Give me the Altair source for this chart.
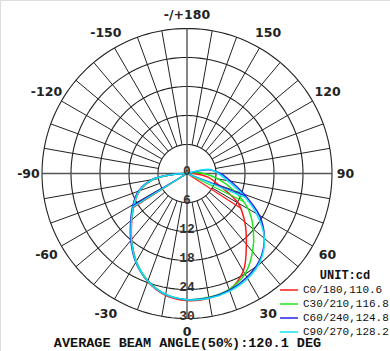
import altair as alt
import numpy as np
import pandas as pd

# Photometric polar diagram: intensity (cd) against gamma angle, 0 = straight down.
series = ["C0/180,110.6", "C30/210,116.8", "C60/240,124.8", "C90/270,128.2"]
colors = ["#ff1a1a", "#1ee61e", "#2323e6", "#12e4f2"]

gamma = [-95, -90, -85, -80, -70, -60, -50, -40, -30, -20, -10, 0,
         10, 20, 30, 40, 50, 60, 70, 80, 90, 100, 110]
i_c0 = [0, 0.5, 3.5, 7.0, 10.4, 12.6, 14.9, 17.8, 21.0, 23.8, 25.6, 26.3,
        26.2, 25.6, 23.3, 19.1, 15.6, 12.2, 7.0, 4.4, 1.5, 0, 0]
i_c30 = [0, 0.7, 3.7, 7.2, 10.5, 12.7, 15.0, 17.9, 21.0, 23.6, 25.4, 26.1,
         26.0, 25.5, 24.0, 21.1, 17.9, 14.6, 10.3, 6.5, 3.5, 1.0, 0]
i_c60 = [0, 0.9, 4.0, 7.4, 10.7, 12.9, 15.2, 18.1, 21.2, 23.7, 25.4, 26.1,
         26.1, 25.7, 24.8, 23.4, 20.9, 17.3, 12.6, 9.2, 6.9, 4.5, 0]
i_c90 = [0, 0.8, 3.9, 7.3, 10.5, 12.7, 15.0, 17.9, 21.1, 23.7, 25.4, 26.1,
         26.2, 25.9, 25.1, 23.6, 20.9, 16.6, 12.0, 8.5, 6.5, 4.9, 0]
intensities = [i_c0, i_c30, i_c60, i_c90]

ring_values = [6, 12, 18, 24, 30]
ring_labels = ["0", "6", "12", "18", "24", "30"]
angle_ticks = [0, 30, 60, 90, 120, 150, 180, -150, -120, -90, -60, -30]
angle_labels = ["0", "30", "60", "90", "120", "150", "-/+180",
                "-150", "-120", "-90", "-60", "-30"]
caption = "AVERAGE BEAM ANGLE(50%):120.1 DEG"
unit_label = "UNIT:cd"

# ---- layout -------------------------------------------------------------
W, H = 390, 351
CX, CY = 187, 173.5
PX = 145 / 30.0  # pixels per candela
xs = alt.Scale(domain=[-CX / PX, (W - CX) / PX], range=[0, W], nice=False, zero=False)
ys = alt.Scale(domain=[-(H - CY) / PX, CY / PX], range=[H, 0], nice=False, zero=False)
X = lambda f: alt.X(f, type="quantitative", scale=xs, axis=None)
Y = lambda f: alt.Y(f, type="quantitative", scale=ys, axis=None)
RAD = "PI/180"

# ---- grid ---------------------------------------------------------------
circ = pd.DataFrame([(r, p) for r in ring_values for p in range(0, 361, 2)],
                    columns=["r", "phi"])
circles = alt.Chart(circ).transform_calculate(
    px=f"datum.r*sin(datum.phi*{RAD})", py=f"datum.r*cos(datum.phi*{RAD})"
).mark_line(color="#222", strokeWidth=1.1).encode(
    x=X("px"), y=Y("py"), detail="r:N", order="phi:Q")

spk = pd.DataFrame({"a": [a for a in range(0, 360, 10) if a % 90 != 0]})
spokes = alt.Chart(spk).transform_calculate(
    x1=f"6*sin(datum.a*{RAD})", y1=f"6*cos(datum.a*{RAD})",
    x2=f"30*sin(datum.a*{RAD})", y2=f"30*cos(datum.a*{RAD})"
).mark_rule(color="#222", strokeWidth=1.0).encode(
    x=X("x1"), y=Y("y1"), x2="x2:Q", y2="y2:Q")

axes_df = pd.DataFrame({"a": [0, 90]})
axes = alt.Chart(axes_df).transform_calculate(
    x1=f"-30*sin(datum.a*{RAD})", y1=f"-30*cos(datum.a*{RAD})",
    x2=f"30*sin(datum.a*{RAD})", y2=f"30*cos(datum.a*{RAD})"
).mark_rule(color="#555", strokeWidth=1.4).encode(
    x=X("x1"), y=Y("y1"), x2="x2:Q", y2="y2:Q")

# ---- curves -------------------------------------------------------------
rows = []
for s, vals in zip(series, intensities):
    for g, v in zip(gamma, vals):
        rows.append({"series": s, "g": g, "I": v})
curve_df = pd.DataFrame(rows)

color = alt.Color("series:N", scale=alt.Scale(domain=series, range=colors),
                  legend=alt.Legend(
                      title=None, orient="none", legendX=279, legendY=284,
                      symbolType="stroke", symbolSize=324, symbolStrokeWidth=1.5,
                      labelFont="Liberation Mono", labelFontSize=11,
                      labelColor="#111", labelOffset=4, labelLimit=0,
                      rowPadding=2, clipHeight=12, padding=0))

curves = alt.Chart(curve_df).transform_calculate(
    px=f"datum.I*sin(datum.g*{RAD})", py=f"-datum.I*cos(datum.g*{RAD})"
).mark_line(strokeWidth=1.5, interpolate="catmull-rom").encode(
    x=X("px"), y=Y("py"), color=color, order="g:Q")


# 50% rays: from the centre to where each half of a curve falls to half its peak
def half_crossing(angles, vals, half):
    for k in range(len(angles) - 1):
        a0, a1, v0, v1 = angles[k], angles[k + 1], vals[k], vals[k + 1]
        if (v0 - half) * (v1 - half) <= 0 and v0 != v1:
            return a0 + (half - v0) * (a1 - a0) / (v1 - v0)
    return angles[-1]


ray_rows = []
g_arr = np.array(gamma)
for s, vals in zip(series, intensities):
    v = np.array(vals, dtype=float)
    half = v.max() / 2
    right = g_arr >= 0
    left = g_arr <= 0
    ar = half_crossing(list(g_arr[right]), list(v[right]), half)
    al = half_crossing(list(g_arr[left][::-1]), list(v[left][::-1]), half)
    for side, a in (("R", ar), ("L", al)):
        ray_rows.append({"series": s, "side": side, "step": 0, "g": a, "I": 0.0})
        ray_rows.append({"series": s, "side": side, "step": 1, "g": a, "I": half})
ray_df = pd.DataFrame(ray_rows)
rays = alt.Chart(ray_df).transform_calculate(
    px=f"datum.I*sin(datum.g*{RAD})", py=f"-datum.I*cos(datum.g*{RAD})",
    key="datum.series + datum.side"
).mark_line(strokeWidth=1.2).encode(
    x=X("px"), y=Y("py"),
    color=alt.Color("series:N", scale=alt.Scale(domain=series, range=colors), legend=None),
    detail="key:N", order="step:Q")

# ---- labels -------------------------------------------------------------
ang_df = pd.DataFrame({"a": angle_ticks, "t": angle_labels})
angle_text = alt.Chart(ang_df).transform_calculate(
    rr=f"32.8 + 0.9*abs(sin(2*datum.a*{RAD}))",
    px=f"datum.rr*sin(datum.a*{RAD})", py=f"-datum.rr*cos(datum.a*{RAD})"
).mark_text(font="DejaVu Sans", fontSize=12.5, fontWeight="bold", color="#222",
            baseline="middle", align="center").encode(
    x=X("px"), y=Y("py"), text="t:N")

rl_df = pd.DataFrame({"r": [0] + ring_values, "t": ring_labels})
ring_text = alt.Chart(rl_df).transform_calculate(py="-datum.r").mark_text(
    font="Liberation Mono", fontSize=13, fontWeight="bold", color="#333",
    baseline="middle", align="center", dy=-3).encode(
    x=alt.X("r", type="quantitative", scale=xs, axis=None, aggregate=None).__class__(
        datum=0, type="quantitative", scale=xs, axis=None),
    y=Y("py"), text="t:N")

unit_text = alt.Chart(pd.DataFrame({"t": [unit_label]})).mark_text(
    font="Liberation Mono", fontSize=12, fontWeight="bold", color="#111",
    baseline="middle", align="center").encode(
    x=alt.value(345), y=alt.value(275), text="t:N")

caption_text = alt.Chart(pd.DataFrame({"t": [caption]})).mark_text(
    font="Liberation Mono", fontSize=13.5, fontWeight="bold", color="#111",
    baseline="middle", align="center").encode(
    x=alt.value(187.5), y=alt.value(343), text="t:N")

chart = alt.layer(
    circles, spokes, axes, curves, rays, angle_text, ring_text, unit_text, caption_text
).resolve_scale(color="shared").properties(
    width=W, height=H, padding=0, autosize=alt.AutoSizeParams(type="none")
).configure_view(stroke=None).configure(background="white")

chart.save("out.html", embed_options={"renderer": "svg", "actions": False})
